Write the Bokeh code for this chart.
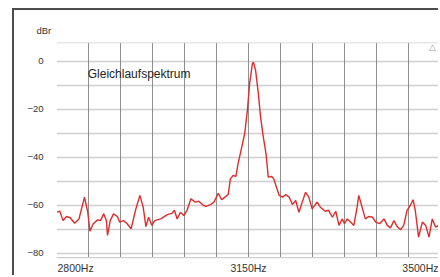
from bokeh.plotting import figure
from bokeh.models import FixedTicker, Label, Range1d, Grid, Span, Title
from bokeh.embed import file_html
from bokeh.resources import INLINE

# ---- data ----
freq_hz = [2801, 2806, 2812, 2818, 2825, 2833, 2841, 2851, 2857, 2861, 2867, 2875,
           2880, 2886, 2891, 2893, 2898, 2904, 2911, 2915, 2922, 2928, 2936, 2944,
           2952, 2958, 2963, 2968, 2974, 2979, 2990, 3002, 3011, 3015, 3020, 3026,
           3032, 3038, 3045, 3053, 3059, 3066, 3072, 3081, 3087, 3095, 3101, 3107,
           3113, 3117, 3122, 3127, 3131, 3137, 3143, 3148, 3152, 3157, 3159, 3163,
           3168, 3172, 3177, 3182, 3186, 3192, 3196, 3201, 3206, 3212, 3218, 3224,
           3230, 3236, 3242, 3248, 3254, 3260, 3266, 3275, 3281, 3290, 3296, 3303,
           3309, 3315, 3321, 3325, 3330, 3336, 3342, 3348, 3351, 3357, 3363, 3369,
           3376, 3382, 3389, 3397, 3403, 3409, 3415, 3421, 3427, 3433, 3439, 3445,
           3450, 3454, 3460, 3467, 3473, 3479, 3485, 3491, 3497, 3500]
level_dbr = [-62.8, -62.4, -66.3, -64.6, -65.1, -67.4, -65.6, -56.5, -62.8, -70.7, -67.6, -66.0,
             -66.3, -63.5, -66.3, -72.5, -66.3, -63.5, -64.6, -66.9, -66.3, -67.4, -69.7, -62.0,
             -55.8, -60.7, -68.8, -64.9, -68.3, -66.3, -65.6, -63.8, -63.2, -62.0, -65.6, -62.8,
             -64.2, -62.0, -57.2, -58.6, -58.2, -59.6, -60.4, -59.6, -58.6, -54.9, -57.6, -56.5,
             -55.4, -48.9, -47.5, -47.9, -42.6, -36.4, -30.1, -20.4, -9.3, -1.0, -0.3, -3.8,
             -13.5, -23.2, -31.5, -38.5, -48.2, -47.9, -48.9, -52.4, -55.8, -56.5, -55.4, -56.5,
             -59.6, -57.9, -62.8, -58.6, -54.5, -56.5, -61.4, -58.6, -60.7, -62.4, -62.0, -64.9,
             -62.4, -68.3, -65.6, -67.6, -65.6, -66.9, -68.3, -60.7, -55.8, -60.7, -65.6, -64.6,
             -64.9, -66.9, -67.6, -65.6, -68.3, -69.3, -66.3, -68.8, -70.1, -68.3, -62.0, -60.0,
             -57.6, -62.0, -73.2, -66.9, -68.3, -73.2, -65.6, -69.0, -68.3, -68.0]

x_tick_values = [2800, 3150, 3500]
x_tick_labels = ["2800Hz", "3150Hz", "3500Hz"]
y_tick_values = [-80, -60, -40, -20, 0]
y_minor_values = [-70, -50, -30, -10]
title_text = "Gleichlaufspektrum"
unit_text = "dBr"

X_START, X_END = 2800, 3500
Y_DATA_BOTTOM, Y_END = -81.7, 7.9
Y_START = -90.0          # room for the frequency labels below the plot area
x_grid_values = [X_START + i * (X_END - X_START) / 12 for i in range(12)]

FONT = "Liberation Sans"
TXT = "#333333"

p = figure(width=426, height=267, output_backend="svg", toolbar_location=None,
           x_range=Range1d(X_START, X_END), y_range=Range1d(Y_START, Y_END),
           x_axis_location=None, min_border_left=42, min_border_right=0,
           min_border_top=32, min_border_bottom=0)
p.margin = (8, 0, 0, 12)
p.styles = {"border-left": "2px solid #4d4d4d", "border-top": "2px solid #4d4d4d"}
p.background_fill_color = "white"
p.border_fill_color = "white"
p.outline_line_color = None

# unit label above the y axis
p.add_layout(Title(text=unit_text, align="left", offset=-20, standoff=14,
                   text_font=FONT, text_font_size="9.5px", text_font_style="normal",
                   text_color=TXT), "above")

# grids
p.xgrid.visible = False
p.add_layout(Grid(dimension=0, ticker=FixedTicker(ticks=x_grid_values),
                  cross_bounds=(Y_DATA_BOTTOM, Y_END),
                  grid_line_color="#8f8f8f", grid_line_width=1))
p.yaxis.ticker = FixedTicker(ticks=y_tick_values, minor_ticks=y_minor_values)
p.ygrid.grid_line_color = "#cfcfcf"
p.ygrid.grid_line_width = 1.4
p.ygrid.minor_grid_line_color = "#cfcfcf"
p.ygrid.minor_grid_line_width = 1.4
p.add_layout(Span(location=Y_END, dimension="width", line_color="#cfcfcf", line_width=1.5))
p.add_layout(Span(location=Y_DATA_BOTTOM, dimension="width", line_color="#cfcfcf",
                  line_width=1.4))

ya = p.yaxis[0]
ya.axis_line_color = None
ya.major_tick_line_color = None
ya.minor_tick_line_color = None
ya.major_tick_out = 0
ya.minor_tick_out = 0
ya.major_label_standoff = 13
ya.major_label_text_font = FONT
ya.major_label_text_font_size = "9.5px"
ya.major_label_text_color = TXT

# spectrum
p.line(freq_hz, level_dbr, line_color="#dc2c2c", line_width=1.4)

# frequency labels
aligns = ["left", "center", "right"]
offsets = [1, 0, -2]
for v, t, a, o in zip(x_tick_values, x_tick_labels, aligns, offsets):
    p.add_layout(Label(x=v, y=Y_DATA_BOTTOM, x_offset=o, y_offset=-4, text=t, text_align=a,
                       text_baseline="top", text_font=FONT, text_font_size="10.5px",
                       text_color=TXT))

p.add_layout(Label(x=2857, y=-5.4, text=title_text, text_align="left",
                   text_baseline="middle", text_font=FONT, text_font_size="12px",
                   text_color="#222222"))
p.add_layout(Label(x=3485, y=6.0, text="\u25b3", text_align="center",
                   text_baseline="middle", text_font=FONT,
                   text_font_size="9px", text_color="#9a9a9a"))

open("out.html", "w").write(file_html(p, INLINE))
